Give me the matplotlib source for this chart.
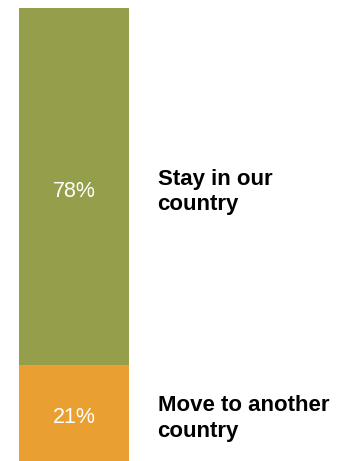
import matplotlib.pyplot as plt
import matplotlib.transforms as mtransforms

# Share of respondents by preference
labels = ["Move to another\ncountry", "Stay in our\ncountry"]
values = [21, 78]
colors = ["#EAA030", "#959E4A"]

fig = plt.figure(figsize=(3.39, 4.61), dpi=100)
ax = fig.add_axes([19 / 339, 0, 110 / 339, 453 / 461])

bottom = 0
trans = mtransforms.blended_transform_factory(ax.transAxes, ax.transData)
for label, value, color in zip(labels, values, colors):
    ax.bar(0, value, bottom=bottom, width=1, color=color, linewidth=0)
    mid = bottom + value / 2
    ax.text(0, mid - 1.0, f"{value}%", ha="center", va="center", color="white",
            fontsize=15.5, family="Liberation Sans")
    ax.text(1.26, mid - 1.2, label, transform=trans, ha="left", va="center",
            fontsize=16, fontweight="bold", family="Liberation Sans",
            linespacing=1.3, color="black")
    bottom += value

ax.set_xlim(-0.5, 0.5)
ax.set_ylim(0, 99)
ax.axis("off")

fig.savefig("out.png", dpi=100)
